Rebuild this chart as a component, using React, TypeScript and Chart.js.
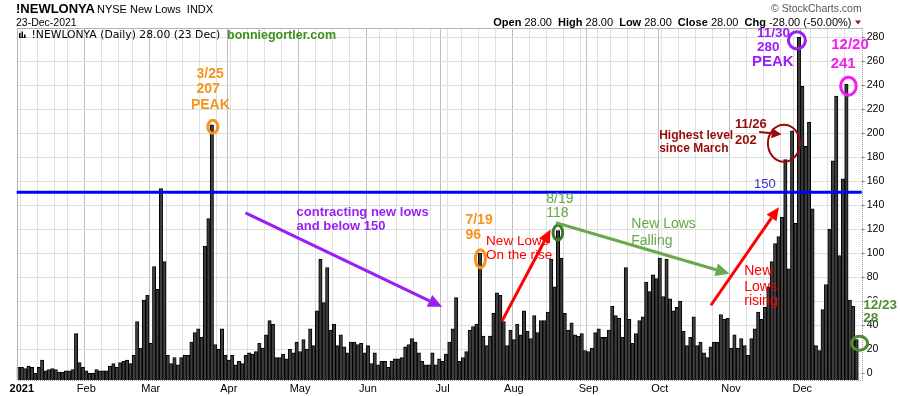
import React, { useEffect, useRef } from 'react';
import { Chart, registerables } from 'chart.js';

Chart.register(...registerables);

const FONT = '"Liberation Sans", Arial, Helvetica, sans-serif';
const WIDE_FONT = '"DejaVu Sans", Verdana, sans-serif';

// Daily NYSE new lows (first value is the 31-Dec-2020 session shown at the left edge)
const janValues = [5, 5, 4, 6, 5, 0, 5, 11, 2, 3, 4, 3, 1, 1, 2, 2, 3, 33, 9, 5];
const febValues = [2, 0, 0, 3, 2, 2, 2, 6, 8, 5, 9, 10, 11, 8, 15, 43, 21, 61, 65];
const marValues = [25, 89, 70, 154, 93, 15, 8, 13, 7, 13, 15, 15, 26, 34, 37, 30, 106, 129, 207, 24, 20, 37, 15];
const aprValues = [11, 15, 7, 10, 8, 15, 17, 16, 18, 25, 21, 32, 44, 41, 13, 13, 16, 12, 20, 17, 26];
const mayValues = [18, 28, 20, 37, 23, 52, 95, 59, 88, 36, 41, 23, 32, 22, 17, 26, 26, 24, 25, 17];
const junValues = [23, 8, 17, 7, 10, 10, 5, 10, 12, 12, 13, 22, 24, 29, 26, 17, 10, 7, 7, 17, 7, 12];
const julValues = [10, 16, 26, 37, 63, 10, 13, 18, 36, 39, 41, 100, 31, 23, 31, 50, 67, 65, 43, 23, 36];
const augValues = [28, 41, 32, 52, 35, 29, 48, 34, 44, 44, 51, 95, 72, 119, 96, 50, 36, 42, 32, 31, 33, 19];
const sepValues = [18, 21, 34, 37, 30, 30, 36, 56, 48, 46, 30, 88, 45, 25, 33, 44, 47, 76, 68, 82, 79];
const octValues = [96, 64, 95, 62, 52, 55, 60, 35, 23, 30, 47, 23, 26, 17, 13, 22, 26, 26, 49, 45, 46];
const novValues = [21, 32, 21, 29, 23, 15, 29, 37, 51, 45, 55, 72, 93, 108, 114, 130, 178, 87, 202, 125, 280];
const decValues = [239, 189, 209, 137, 23, 19, 53, 74, 120, 177, 231, 98, 162, 241, 61, 56, 28];

const firstSession = '2020-12-31';
const lastSession = '2021-12-23';
const marketHolidays = ['2021-01-01', '2021-01-18', '2021-02-15', '2021-04-02', '2021-05-31', '2021-07-05', '2021-09-06', '2021-11-25'];
const monthTickLabels = ['2021', 'Feb', 'Mar', 'Apr', 'May', 'Jun', 'Jul', 'Aug', 'Sep', 'Oct', 'Nov', 'Dec'];
const yTickStep = 20;
const yMin = -5.6;
const yMax = 287.7;
const thresholdLevel = 150;

// annotated points (date, value)
const peakMar = ['2021-03-25', 207];
const peakJul = ['2021-07-19', 96];
const peakAug = ['2021-08-19', 118];
const highNov = ['2021-11-26', 202];
const peakNov = ['2021-11-30', 280];
const peakDec = ['2021-12-20', 241];
const lastDay = ['2021-12-23', 28];

function tradingDays(): string[] {
  const out: string[] = [];
  const d = new Date(firstSession + 'T00:00:00Z');
  const end = new Date(lastSession + 'T00:00:00Z');
  while (d <= end) {
    const iso = d.toISOString().slice(0, 10);
    const wd = d.getUTCDay();
    if (wd !== 0 && wd !== 6 && !marketHolidays.includes(iso)) out.push(iso);
    d.setUTCDate(d.getUTCDate() + 1);
  }
  return out;
}

const values = [
  ...janValues, ...febValues, ...marValues, ...aprValues, ...mayValues, ...junValues,
  ...julValues, ...augValues, ...sepValues, ...octValues, ...novValues, ...decValues,
];
const dates = tradingDays();
const labels = [...dates, '']; // one empty slot at the right edge, as in the original

const tickText: string[] = labels.map(() => '');
const gridKind: number[] = labels.map(() => 0); // 0 none, 1 week, 2 month
dates.forEach((d, i) => {
  if (i === 0) return;
  const prev = dates[i - 1];
  const dow = new Date(d + 'T00:00:00Z').getUTCDay();
  const pdow = new Date(prev + 'T00:00:00Z').getUTCDay();
  if (dow <= pdow) gridKind[i] = 1;
  if (d.slice(0, 7) !== prev.slice(0, 7)) {
    const m = parseInt(d.slice(5, 7), 10) - 1;
    tickText[i] = monthTickLabels[m];
    if (m !== 0) gridKind[i] = 2;
  }
});

function txt(ctx: CanvasRenderingContext2D, s: string, x: number, y: number, size: number, color: string, bold = false, align: CanvasTextAlign = 'left', family = FONT) {
  ctx.font = `${bold ? 'bold ' : ''}${size}px ${family}`;
  ctx.fillStyle = color;
  ctx.textAlign = align;
  ctx.textBaseline = 'middle';
  ctx.fillText(s, x, y);
}

function arrow(ctx: CanvasRenderingContext2D, x1: number, y1: number, x2: number, y2: number, color: string, width: number, headLen: number, headW: number) {
  const ang = Math.atan2(y2 - y1, x2 - x1);
  const bx = x2 - headLen * Math.cos(ang);
  const by = y2 - headLen * Math.sin(ang);
  ctx.strokeStyle = color;
  ctx.lineWidth = width;
  ctx.lineCap = 'butt';
  ctx.beginPath();
  ctx.moveTo(x1, y1);
  ctx.lineTo(bx, by);
  ctx.stroke();
  ctx.fillStyle = color;
  ctx.beginPath();
  ctx.moveTo(x2, y2);
  ctx.lineTo(bx + (headW / 2) * Math.sin(ang), by - (headW / 2) * Math.cos(ang));
  ctx.lineTo(bx - (headW / 2) * Math.sin(ang), by + (headW / 2) * Math.cos(ang));
  ctx.closePath();
  ctx.fill();
}

function ring(ctx: CanvasRenderingContext2D, cx: number, cy: number, rx: number, ry: number, color: string, width: number) {
  ctx.strokeStyle = color;
  ctx.lineWidth = width;
  ctx.beginPath();
  ctx.ellipse(cx, cy, rx, ry, 0, 0, Math.PI * 2);
  ctx.stroke();
}

const overlayPlugin = {
  id: 'overlay',
  afterDatasetsDraw(chart: any) {
    const { ctx, chartArea: a, scales } = chart;
    const y = scales.y;
    ctx.save();
    // frame
    ctx.lineWidth = 1;
    ctx.strokeStyle = '#b4b4b4';
    ctx.beginPath();
    ctx.moveTo(Math.round(a.left) + 0.5, Math.round(a.bottom));
    ctx.lineTo(Math.round(a.left) + 0.5, Math.round(a.top) + 0.5);
    ctx.lineTo(Math.round(a.right) + 0.5, Math.round(a.top) + 0.5);
    ctx.stroke();
    ctx.setLineDash([1, 1]);
    ctx.strokeStyle = '#9a9a9a';
    ctx.beginPath();
    ctx.moveTo(Math.round(a.right) + 0.5, Math.round(a.top));
    ctx.lineTo(Math.round(a.right) + 0.5, Math.round(a.bottom) + 0.5);
    ctx.lineTo(Math.round(a.left), Math.round(a.bottom) + 0.5);
    ctx.stroke();
    ctx.setLineDash([]);
    // threshold line
    const yb = y.getPixelForValue(thresholdLevel) - 1;
    ctx.strokeStyle = '#0000ff';
    ctx.lineWidth = 3;
    ctx.beginPath();
    ctx.moveTo(a.left, yb);
    ctx.lineTo(a.right, yb);
    ctx.stroke();
    ctx.restore();
  },
  afterDraw(chart: any) {
    const { ctx, chartArea: a, scales } = chart;
    const x = scales.x;
    const y = scales.y;
    const at = (p: any) => ({ x: x.getPixelForValue(dates.indexOf(p[0])), y: y.getPixelForValue(p[1]) });
    const A1 = at(peakMar);
    const A2 = at(peakJul);
    const A3 = at(peakAug);
    const A4 = at(highNov);
    const A5 = at(peakNov);
    const A6 = at(peakDec);
    const A7 = at(lastDay);
    ctx.save();

    // ---------- header ----------
    txt(ctx, '!NEWLONYA', 16, 9.5, 13, '#000', true);
    txt(ctx, 'NYSE New Lows  INDX', 97, 10, 11, '#000');
    txt(ctx, '23-Dec-2021', 16, 23, 10.5, '#000');
    txt(ctx, '\u00A9 StockCharts.com', a.right, 9.5, 10.5, '#555', false, 'right');
    const parts: [string, boolean][] = [
      ['Open', true], [' 28.00  ', false], ['High', true], [' 28.00  ', false], ['Low', true],
      [' 28.00  ', false], ['Close', true], [' 28.00  ', false], ['Chg', true], [' -28.00 (-50.00%)', false],
    ];
    let total = 0;
    parts.forEach(([s, b]) => {
      ctx.font = `${b ? 'bold ' : ''}11px ${FONT}`;
      total += ctx.measureText(s).width;
    });
    let hx = 851.5 - total;
    parts.forEach(([s, b]) => {
      txt(ctx, s, hx, 22.5, 11, '#000', b);
      ctx.font = `${b ? 'bold ' : ''}11px ${FONT}`;
      hx += ctx.measureText(s).width;
    });
    ctx.fillStyle = '#8b1a1a';
    ctx.beginPath();
    ctx.moveTo(855, 20.5);
    ctx.lineTo(861, 20.5);
    ctx.lineTo(858, 24.5);
    ctx.closePath();
    ctx.fill();

    // legend line inside the plot
    ctx.fillStyle = '#000';
    ctx.fillRect(19, 33, 1.5, 4.5);
    ctx.fillRect(21.5, 31.5, 1.5, 6);
    ctx.fillRect(24, 34.5, 1.5, 3);
    ctx.fillRect(19, 37, 7, 0.8);
    txt(ctx, '!NEWLONYA (Daily) 28.00 (23 Dec)', 31.5, 35.5, 10.8, '#000', false, 'left', WIDE_FONT);
    txt(ctx, 'bonniegortler.com', 227, 36, 12.5, '#3f8f1f', true);

    // ---------- March peak ----------
    const orange = '#f7941d';
    txt(ctx, '3/25', A1.x - 1.7, A1.y - 51, 14, orange, true, 'center');
    txt(ctx, '207', A1.x - 3.7, A1.y - 36, 14, orange, true, 'center');
    txt(ctx, 'PEAK', A1.x - 1.5, A1.y - 20, 14, orange, true, 'center');
    ring(ctx, A1.x + 1, A1.y + 2, 5, 6.5, orange, 3);

    // ---------- contracting ----------
    const purple = '#9a1ff3';
    txt(ctx, 'contracting new lows', A1.x + 84.7, A1.y + 87.5, 13, purple, true);
    txt(ctx, 'and below 150', A1.x + 84.7, A1.y + 102, 13, purple, true);
    arrow(ctx, A1.x + 33.7, A1.y + 88, A2.x - 37.8, A2.y + 48.8, purple, 3.2, 14, 13);

    // ---------- July ----------
    txt(ctx, '7/19', A2.x - 14.5, A2.y - 38, 14, orange, true);
    txt(ctx, '96', A2.x - 14.5, A2.y - 23, 14, orange, true);
    ring(ctx, A2.x + 0.5, A2.y + 0.6, 5, 9, orange, 3);
    txt(ctx, 'New Lows', A2.x + 6.2, A2.y - 17.2, 13.5, '#ff0000');
    txt(ctx, 'On the rise', A2.x + 6.2, A2.y - 2.8, 13.5, '#ff0000');
    arrow(ctx, A2.x + 22.2, A2.y + 62.8, A3.x - 7.4, A3.y - 2.2, '#ff0000', 3, 13, 12);

    // ---------- August ----------
    const lightGreen = '#63a845';
    txt(ctx, '8/19', A3.x - 11.7, A3.y - 32.5, 14, lightGreen);
    txt(ctx, '118', A3.x - 11.7, A3.y - 18.5, 14, lightGreen);
    ring(ctx, A3.x - 0.1, A3.y + 1, 4.8, 7.3, '#3b7a2a', 3);
    arrow(ctx, A3.x - 2, A3.y - 9, A3.x + 171.6, A3.y + 42, '#6aa84f', 3.2, 14, 13);
    txt(ctx, 'New Lows', A3.x + 73.3, A3.y - 7.5, 14, lightGreen);
    txt(ctx, 'Falling', A3.x + 73.3, A3.y + 9, 14, lightGreen);

    // ---------- November ----------
    arrow(ctx, A4.x - 81.2, A4.y + 174.4, A4.x - 13.2, A4.y + 76.4, '#ff0000', 3, 13, 12);
    txt(ctx, 'New', A4.x - 47.9, A4.y + 140.1, 14, '#ff0000');
    txt(ctx, 'Lows', A4.x - 47.9, A4.y + 156.1, 14, '#ff0000');
    txt(ctx, 'rising', A4.x - 47.9, A4.y + 170.4, 14, '#ff0000');
    const darkRed = '#970b0b';
    txt(ctx, 'Highest level', A4.x - 133, A4.y + 4.4, 12, darkRed, true);
    txt(ctx, 'since March', A4.x - 133, A4.y + 17.7, 12, darkRed, true);
    txt(ctx, '11/26', A4.x - 57.2, A4.y - 6.6, 13, darkRed, true);
    txt(ctx, '202', A4.x - 57.2, A4.y + 9.4, 13, darkRed, true);
    arrow(ctx, A4.x - 33, A4.y + 1.1, A4.x - 10.5, A4.y + 3.4, darkRed, 2, 10, 10);
    ring(ctx, A4.x - 8.2, A4.y + 12.4, 16, 18.5, darkRed, 2);
    txt(ctx, '150', A4.x - 38.2, y.getPixelForValue(thresholdLevel) - 9, 13, '#3535c8');

    // ---------- Nov 30 peak ----------
    txt(ctx, '11/30', A5.x - 42, A5.y - 4.4, 13.5, purple, true);
    txt(ctx, '280', A5.x - 42, A5.y + 10.1, 13.5, purple, true);
    txt(ctx, 'PEAK', A5.x - 47, A5.y + 24.3, 15, purple, true);
    ring(ctx, A5.x - 2, A5.y + 3.1, 8.5, 8.5, purple, 3);

    // ---------- Dec 20 ----------
    const magenta = '#f21ef2';
    txt(ctx, '12/20', A6.x - 15.2, A6.y - 38.7, 15, magenta, true);
    txt(ctx, '241', A6.x - 15.8, A6.y - 20.4, 15, magenta, true);
    ring(ctx, A6.x + 2, A6.y + 2.1, 7.8, 9, magenta, 3);

    // ---------- Dec 23 ----------
    const green = '#4c8d2d';
    ctx.font = `bold 13.5px ${FONT}`;
    const w = ctx.measureText('12/23').width;
    ctx.fillStyle = '#fff';
    ctx.fillRect(A7.x + 6.6, A7.y - 41.5, w, 13.5);
    txt(ctx, '12/23', A7.x + 6.6, A7.y - 34.7, 13.5, green, true);
    txt(ctx, '28', A7.x + 6.6, A7.y - 21.4, 13.5, green, true);
    ring(ctx, A7.x + 3, A7.y + 3.6, 8, 7, green, 3);

    ctx.restore();
  },
};

export default function App() {
  const ref = useRef<HTMLCanvasElement | null>(null);
  useEffect(() => {
    document.body.style.margin = '0';
    const canvas = ref.current;
    if (!canvas) return;
    const chart = new Chart(canvas, {
      type: 'bar',
      data: {
        labels,
        datasets: [
          {
            data: values,
            base: yMin,
            backgroundColor: '#3e3e3e',
            borderColor: '#000000',
            borderWidth: 1,
            borderSkipped: 'start',
            barPercentage: 1,
            categoryPercentage: 1,
          } as any,
        ],
      },
      options: {
        responsive: false,
        animation: false,
        devicePixelRatio: 1,
        layout: { padding: { left: 16.7, top: 28, right: 0, bottom: 0 } },
        plugins: { legend: { display: false }, tooltip: { enabled: false } },
        scales: {
          x: {
            type: 'category',
            offset: true,
            border: { display: false },
            grid: {
              offset: true,
              drawTicks: false,
              lineWidth: 1,
              color: (c: any) => {
                if (!c.tick) return 'rgba(0,0,0,0)';
                const k = gridKind[c.index];
                return k === 2 ? '#bdbdbd' : k === 1 ? '#e0e0e0' : 'rgba(0,0,0,0)';
              },
            },
            ticks: {
              autoSkip: false,
              maxRotation: 0,
              minRotation: 0,
              padding: 2,
              color: '#000',
              font: (c: any) => ({ family: FONT, size: 11, weight: tickText[c.index] === '2021' ? 'bold' : 'normal' }),
              callback: (_v: any, i: number) => tickText[i],
            },
            afterFit: (s: any) => {
              s.height = 16;
              s.paddingLeft = 0;
              s.paddingRight = 0;
            },
          },
          y: {
            type: 'linear',
            position: 'right',
            min: yMin,
            max: yMax,
            border: { display: false },
            grid: { color: '#dedede', lineWidth: 1, drawTicks: true, tickLength: 3, tickColor: '#8a8a8a' },
            ticks: {
              stepSize: yTickStep,
              includeBounds: false,
              padding: 2,
              color: '#000',
              font: { family: FONT, size: 10.5 },
              callback: (v: any) => String(v),
            },
            afterFit: (s: any) => {
              s.width = 38.3;
              s.paddingTop = 0;
              s.paddingBottom = 0;
            },
          },
        },
      } as any,
      plugins: [overlayPlugin],
    });
    return () => chart.destroy();
  }, []);
  return (
    <div style={{ position: 'absolute', left: 0, top: 0, width: 900, height: 396, background: '#fff' }}>
      <canvas ref={ref} width={900} height={396} style={{ display: 'block', width: 900, height: 396 }} />
    </div>
  );
}
